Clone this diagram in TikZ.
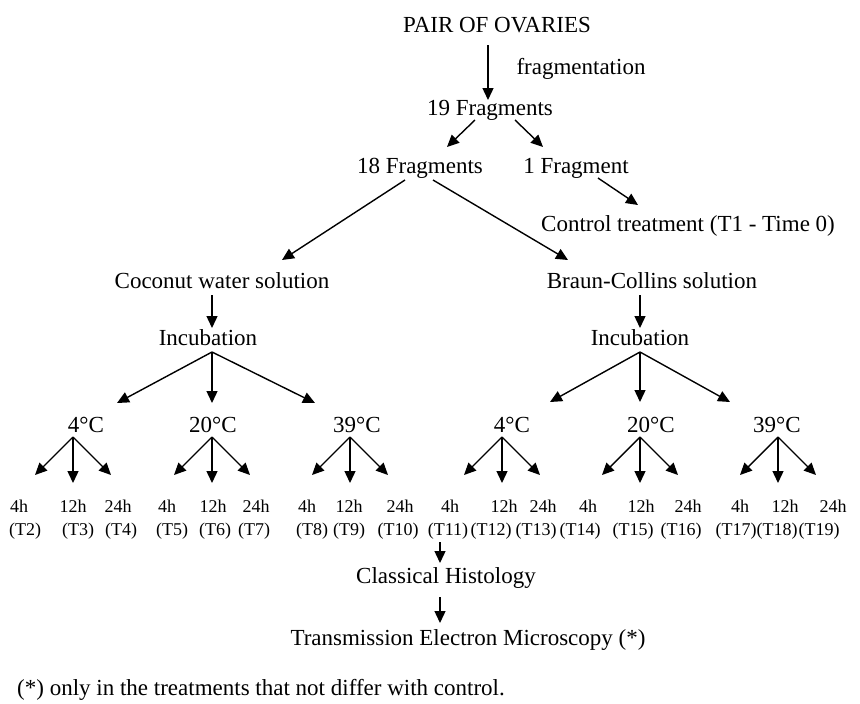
\documentclass[tikz,border=0pt]{standalone}
\usepackage{fontspec}
\setmainfont{Liberation Serif}
\usetikzlibrary{arrows.meta}
\begin{document}
\begin{tikzpicture}[x=1pt,y=-1pt,
  lbl/.style={inner sep=0pt, anchor=base, font=\fontsize{23}{27}\selectfont},
  sml/.style={inner sep=0pt, anchor=base, font=\fontsize{18}{22}\selectfont},
  arr/.style={line width=1.4pt, -{Triangle[length=12pt,width=11pt]}}]
\useasboundingbox (0,0) rectangle (860,704);
\fill[white] (0,0) rectangle (860,704);

% main text nodes
\node[lbl] (pair)  at (497,32)  {PAIR OF OVARIES};
\node[lbl] (frag)  at (581,74)  {fragmentation};
\node[lbl] (f19)   at (490,115) {19 Fragments};
\node[lbl] (f18)   at (420,173) {18 Fragments};
\node[lbl] (f1)    at (576,173) {1 Fragment};
\node[lbl] (ctrl)  at (688,231) {Control treatment (T1 - Time 0)};
\node[lbl] (coco)  at (222,288) {Coconut water solution};
\node[lbl] (braun) at (652,288) {Braun-Collins solution};
\node[lbl] (incL)  at (208,345) {Incubation};
\node[lbl] (incR)  at (640,345) {Incubation};
\node[lbl] (cL4)   at (86,432)  {4°C};
\node[lbl] (cL20)  at (213,432) {20°C};
\node[lbl] (cL39)  at (357,432) {39°C};
\node[lbl] (cR4)   at (512,432) {4°C};
\node[lbl] (cR20)  at (651,432) {20°C};
\node[lbl] (cR39)  at (777,432) {39°C};
\node[lbl] (hist)  at (446,583) {Classical Histology};
\node[lbl] (tem)   at (468,645) {Transmission Electron Microscopy (*)};
\node[lbl, anchor=base west] (note) at (17,695) {(*) only in the treatments that not differ with control.};

% hour labels
\foreach \x/\h/\n in {19/4h/2,73/12h/3,118/24h/4,167/4h/5,213/12h/6,256/24h/7,307/4h/8,349/12h/9,400/24h/10,
                     450/4h/11,504/12h/12,543/24h/13,588/4h/14,641/12h/15,688/24h/16,740/4h/17,785/12h/18,833/24h/19}
  \node[sml] (h\n) at (\x,512) {\h};
\foreach \x/\n in {25/2,78/3,121/4,172/5,215/6,254/7,312/8,349/9,398/10,
                   448/11,491/12,536/13,580/14,633/15,681/16,736/17,777/18,819/19}
  \node[sml] (t\n) at (\x,535) {(T\n)};

% connector end points
\coordinate (pairS) at (488,45);  \coordinate (f19N) at (488,100);
\coordinate (f19L) at (475,120);  \coordinate (f18N) at (447,147);
\coordinate (f19R) at (515,120);  \coordinate (f1N)  at (543,147);
\coordinate (f18L) at (405,180);  \coordinate (cocoN) at (282,260);
\coordinate (f18R) at (433,180);  \coordinate (braunN) at (568,260);
\coordinate (f1S)  at (598,178);  \coordinate (ctrlN) at (638,205);
\coordinate (cocoS) at (212,295); \coordinate (incLN) at (212,328);
\coordinate (braunS) at (640,295); \coordinate (incRN) at (640,328);
\coordinate (incLS) at (212,352); \coordinate (incRS) at (640,352);
\coordinate (t11S) at (440,542);  \coordinate (histN) at (440,563);
\coordinate (histS) at (440,597); \coordinate (temN) at (440,623);

\draw[arr] (pairS) -- (f19N);
\draw[arr] (f19L) -- (f18N);
\draw[arr] (f19R) -- (f1N);
\draw[arr] (f18L) -- (cocoN);
\draw[arr] (f18R) -- (braunN);
\draw[arr] (f1S) -- (ctrlN);
\draw[arr] (cocoS) -- (incLN);
\draw[arr] (braunS) -- (incRN);
\draw[arr] (incLS) -- (117,403);
\draw[arr] (incLS) -- (212,403);
\draw[arr] (incLS) -- (315,403);
\draw[arr] (incRS) -- (550,402);
\draw[arr] (incRS) -- (640,402);
\draw[arr] (incRS) -- (730,402);

% temperature groups
\foreach \ax/\nm in {73/aL4,212/aL20,350/aL39,502/aR4,640/aR20,778/aR39}{
  \coordinate (\nm) at (\ax,437);
  \draw[arr] (\nm) -- ++(-38,38);
  \draw[arr] (\nm) -- ++(0,46);
  \draw[arr] (\nm) -- ++(38,38);
}

\draw[arr] (t11S) -- (histN);
\draw[arr] (histS) -- (temN);
\end{tikzpicture}
\end{document}
